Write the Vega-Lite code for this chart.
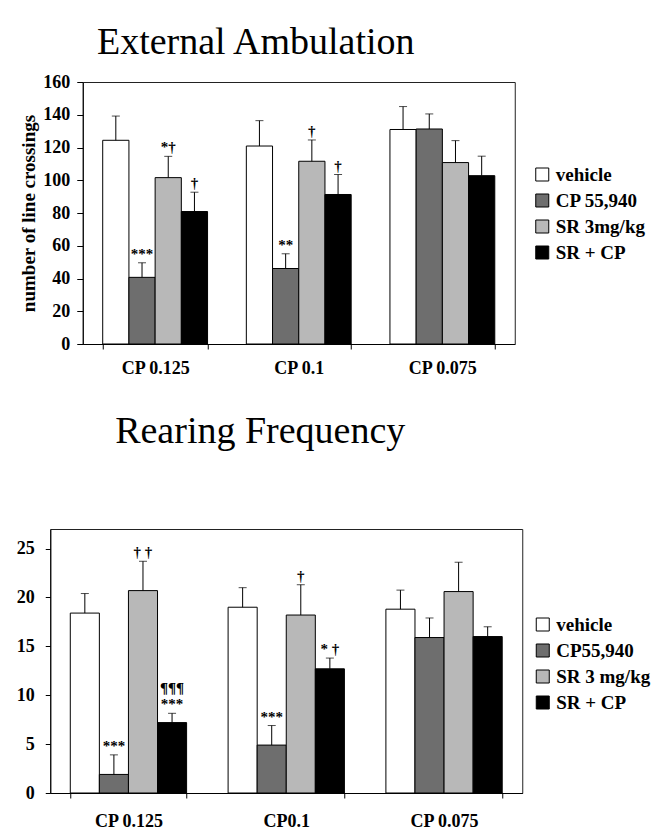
{
  "$schema": "https://vega.github.io/schema/vega-lite/v6.json",
  "background": "white",
  "padding": {"left": 15, "top": 23, "right": 0, "bottom": 0},
  "spacing": 34,
  "center": true,
  "config": {
    "font": "Liberation Serif",
    "view": {"stroke": "#222", "strokeWidth": 1},
    "axis": {
      "domainColor": "#000", "tickColor": "#000", "labelColor": "#000", "titleColor": "#000",
      "labelFont": "Liberation Serif", "titleFont": "Liberation Serif",
      "labelFontWeight": "bold", "titleFontWeight": "bold",
      "labelFontSize": 18, "titleFontSize": 19, "grid": false, "tickSize": 5, "labelOverlap": false
    },
    "legend": {
      "orient": "none", "title": null, "symbolType": "square", "symbolSize": 169,
      "symbolStrokeColor": "#000", "symbolStrokeWidth": 1,
      "labelFont": "Liberation Serif", "labelFontWeight": "bold", "labelFontSize": 19,
      "labelColor": "#000", "rowPadding": 6, "labelOffset": 4, "labelLimit": 200
    },
    "title": {"font": "Liberation Serif", "fontSize": 38, "fontWeight": "normal", "color": "#000", "frame": "group", "anchor": "middle"}
  },
  "resolve": {"scale": {"fill": "independent", "y": "independent", "x": "independent", "xOffset": "independent"}, "legend": {"fill": "independent"}},
  "vconcat": [
    {
      "title": {"text": "External Ambulation", "offset": 11, "dx": -43},
      "width": 432,
      "height": 262,
      "data": {"values": [
        {"dose": "CP 0.125", "treatment": "vehicle", "mean": 124.4, "err": 139.2, "annot": "", "annot2": ""},
        {"dose": "CP 0.125", "treatment": "CP 55,940", "mean": 40.7, "err": 49.6, "annot": "***", "annot2": ""},
        {"dose": "CP 0.125", "treatment": "SR 3mg/kg", "mean": 101.6, "err": 114.6, "annot": "*†", "annot2": ""},
        {"dose": "CP 0.125", "treatment": "SR + CP", "mean": 80.9, "err": 92.7, "annot": "†", "annot2": ""},
        {"dose": "CP 0.1", "treatment": "vehicle", "mean": 120.9, "err": 136.4, "annot": "", "annot2": ""},
        {"dose": "CP 0.1", "treatment": "CP 55,940", "mean": 46.1, "err": 55.1, "annot": "**", "annot2": ""},
        {"dose": "CP 0.1", "treatment": "SR 3mg/kg", "mean": 111.6, "err": 124.6, "annot": "†", "annot2": ""},
        {"dose": "CP 0.1", "treatment": "SR + CP", "mean": 91.3, "err": 103.5, "annot": "†", "annot2": ""},
        {"dose": "CP 0.075", "treatment": "vehicle", "mean": 131.0, "err": 145.0, "annot": "", "annot2": ""},
        {"dose": "CP 0.075", "treatment": "CP 55,940", "mean": 131.3, "err": 140.5, "annot": "", "annot2": ""},
        {"dose": "CP 0.075", "treatment": "SR 3mg/kg", "mean": 110.8, "err": 124.2, "annot": "", "annot2": ""},
        {"dose": "CP 0.075", "treatment": "SR + CP", "mean": 102.8, "err": 114.7, "annot": "", "annot2": ""}
      ]},
      "encoding": {
        "x": {"field": "dose", "type": "nominal", "sort": ["CP 0.125", "CP 0.1", "CP 0.075"],
              "scale": {"paddingInner": 0.27, "paddingOuter": 0.139},
              "axis": {"title": null, "labelAngle": 0, "tickBand": "extent", "labelPadding": 10}},
        "xOffset": {"field": "treatment", "type": "nominal", "sort": ["vehicle", "CP 55,940", "SR 3mg/kg", "SR + CP"],
                    "scale": {"paddingInner": 0, "paddingOuter": 0}}
      },
      "layer": [
        {
          "mark": {"type": "bar", "stroke": "#000", "strokeWidth": 1},
          "encoding": {
            "y": {"field": "mean", "type": "quantitative", "scale": {"domain": [0, 160], "nice": false},
                  "axis": {"title": "number of line crossings", "values": [0, 20, 40, 60, 80, 100, 120, 140, 160], "titlePadding": 4, "tickSize": 6, "labelPadding": 7, "labelOverlap": false}},
            "fill": {"field": "treatment", "type": "nominal",
                     "scale": {"domain": ["vehicle", "CP 55,940", "SR 3mg/kg", "SR + CP"], "range": ["#ffffff", "#6e6e6e", "#b8b8b8", "#000000"]},
                     "legend": {"legendX": 450, "legendY": 83}}
          }
        },
        {
          "mark": {"type": "rule", "color": "#000", "strokeWidth": 1},
          "encoding": {"y": {"field": "mean", "type": "quantitative",
                             "axis": {"title": "number of line crossings", "values": [0, 20, 40, 60, 80, 100, 120, 140, 160], "titlePadding": 4, "tickSize": 6, "labelPadding": 7, "labelOverlap": false}},
                       "y2": {"field": "err"}}
        },
        {
          "mark": {"type": "tick", "color": "#000", "size": 8, "thickness": 1},
          "encoding": {"y": {"field": "err", "type": "quantitative",
                             "axis": {"title": "number of line crossings", "values": [0, 20, 40, 60, 80, 100, 120, 140, 160], "titlePadding": 4, "tickSize": 6, "labelPadding": 7, "labelOverlap": false}}}
        },
        {
          "mark": {"type": "text", "baseline": "bottom", "dy": -1, "fontSize": 15, "fontWeight": "bold", "color": "#000"},
          "encoding": {"y": {"field": "err", "type": "quantitative",
                             "axis": {"title": "number of line crossings", "values": [0, 20, 40, 60, 80, 100, 120, 140, 160], "titlePadding": 4, "tickSize": 6, "labelPadding": 7, "labelOverlap": false}},
                       "text": {"field": "annot"}}
        }
      ]
    },
    {
      "title": {"text": "Rearing Frequency", "offset": 78, "dx": -26},
      "width": 472,
      "height": 264,
      "data": {"values": [
        {"dose": "CP 0.125", "treatment": "vehicle", "mean": 18.4, "err": 20.4, "annot": "", "annot2": ""},
        {"dose": "CP 0.125", "treatment": "CP55,940", "mean": 1.9, "err": 3.9, "annot": "***", "annot2": ""},
        {"dose": "CP 0.125", "treatment": "SR 3 mg/kg", "mean": 20.7, "err": 23.7, "annot": "† †", "annot2": ""},
        {"dose": "CP 0.125", "treatment": "SR + CP", "mean": 7.2, "err": 8.15, "annot": "***", "annot2": "¶¶¶"},
        {"dose": "CP0.1", "treatment": "vehicle", "mean": 19.0, "err": 21.0, "annot": "", "annot2": ""},
        {"dose": "CP0.1", "treatment": "CP55,940", "mean": 4.9, "err": 6.9, "annot": "***", "annot2": ""},
        {"dose": "CP0.1", "treatment": "SR 3 mg/kg", "mean": 18.2, "err": 21.3, "annot": "†", "annot2": ""},
        {"dose": "CP0.1", "treatment": "SR + CP", "mean": 12.7, "err": 13.8, "annot": "* †", "annot2": ""},
        {"dose": "CP 0.075", "treatment": "vehicle", "mean": 18.8, "err": 20.75, "annot": "", "annot2": ""},
        {"dose": "CP 0.075", "treatment": "CP55,940", "mean": 15.9, "err": 17.9, "annot": "", "annot2": ""},
        {"dose": "CP 0.075", "treatment": "SR 3 mg/kg", "mean": 20.6, "err": 23.6, "annot": "", "annot2": ""},
        {"dose": "CP 0.075", "treatment": "SR + CP", "mean": 16.0, "err": 17.0, "annot": "", "annot2": ""}
      ]},
      "encoding": {
        "x": {"field": "dose", "type": "nominal", "sort": ["CP 0.125", "CP0.1", "CP 0.075"],
              "scale": {"paddingInner": 0.263, "paddingOuter": 0.127},
              "axis": {"title": null, "labelAngle": 0, "tickBand": "extent", "labelPadding": 14}},
        "xOffset": {"field": "treatment", "type": "nominal", "sort": ["vehicle", "CP55,940", "SR 3 mg/kg", "SR + CP"],
                    "scale": {"paddingInner": 0, "paddingOuter": 0}}
      },
      "layer": [
        {
          "mark": {"type": "bar", "stroke": "#000", "strokeWidth": 1},
          "encoding": {
            "y": {"field": "mean", "type": "quantitative", "scale": {"domain": [0, 27], "nice": false},
                  "axis": {"title": null, "values": [0, 5, 10, 15, 20, 25], "tickSize": 5, "labelPadding": 11}},
            "fill": {"field": "treatment", "type": "nominal",
                     "scale": {"domain": ["vehicle", "CP55,940", "SR 3 mg/kg", "SR + CP"], "range": ["#ffffff", "#6e6e6e", "#b8b8b8", "#000000"]},
                     "legend": {"legendX": 455, "legendY": 58, "padding": 28}}
          }
        },
        {
          "mark": {"type": "rule", "color": "#000", "strokeWidth": 1},
          "encoding": {"y": {"field": "mean", "type": "quantitative", "axis": {"title": null, "values": [0, 5, 10, 15, 20, 25], "tickSize": 5, "labelPadding": 11}}, "y2": {"field": "err"}}
        },
        {
          "mark": {"type": "tick", "color": "#000", "size": 8, "thickness": 1},
          "encoding": {"y": {"field": "err", "type": "quantitative", "axis": {"title": null, "values": [0, 5, 10, 15, 20, 25], "tickSize": 5, "labelPadding": 11}}}
        },
        {
          "mark": {"type": "text", "baseline": "bottom", "dy": -1, "fontSize": 15, "fontWeight": "bold", "color": "#000"},
          "encoding": {"y": {"field": "err", "type": "quantitative", "axis": {"title": null, "values": [0, 5, 10, 15, 20, 25], "tickSize": 5, "labelPadding": 11}}, "text": {"field": "annot"}}
        },
        {
          "mark": {"type": "text", "baseline": "bottom", "dy": -17, "fontSize": 15, "fontWeight": "bold", "color": "#000"},
          "encoding": {"y": {"field": "err", "type": "quantitative", "axis": {"title": null, "values": [0, 5, 10, 15, 20, 25], "tickSize": 5, "labelPadding": 11}}, "text": {"field": "annot2"}}
        }
      ]
    }
  ]
}
